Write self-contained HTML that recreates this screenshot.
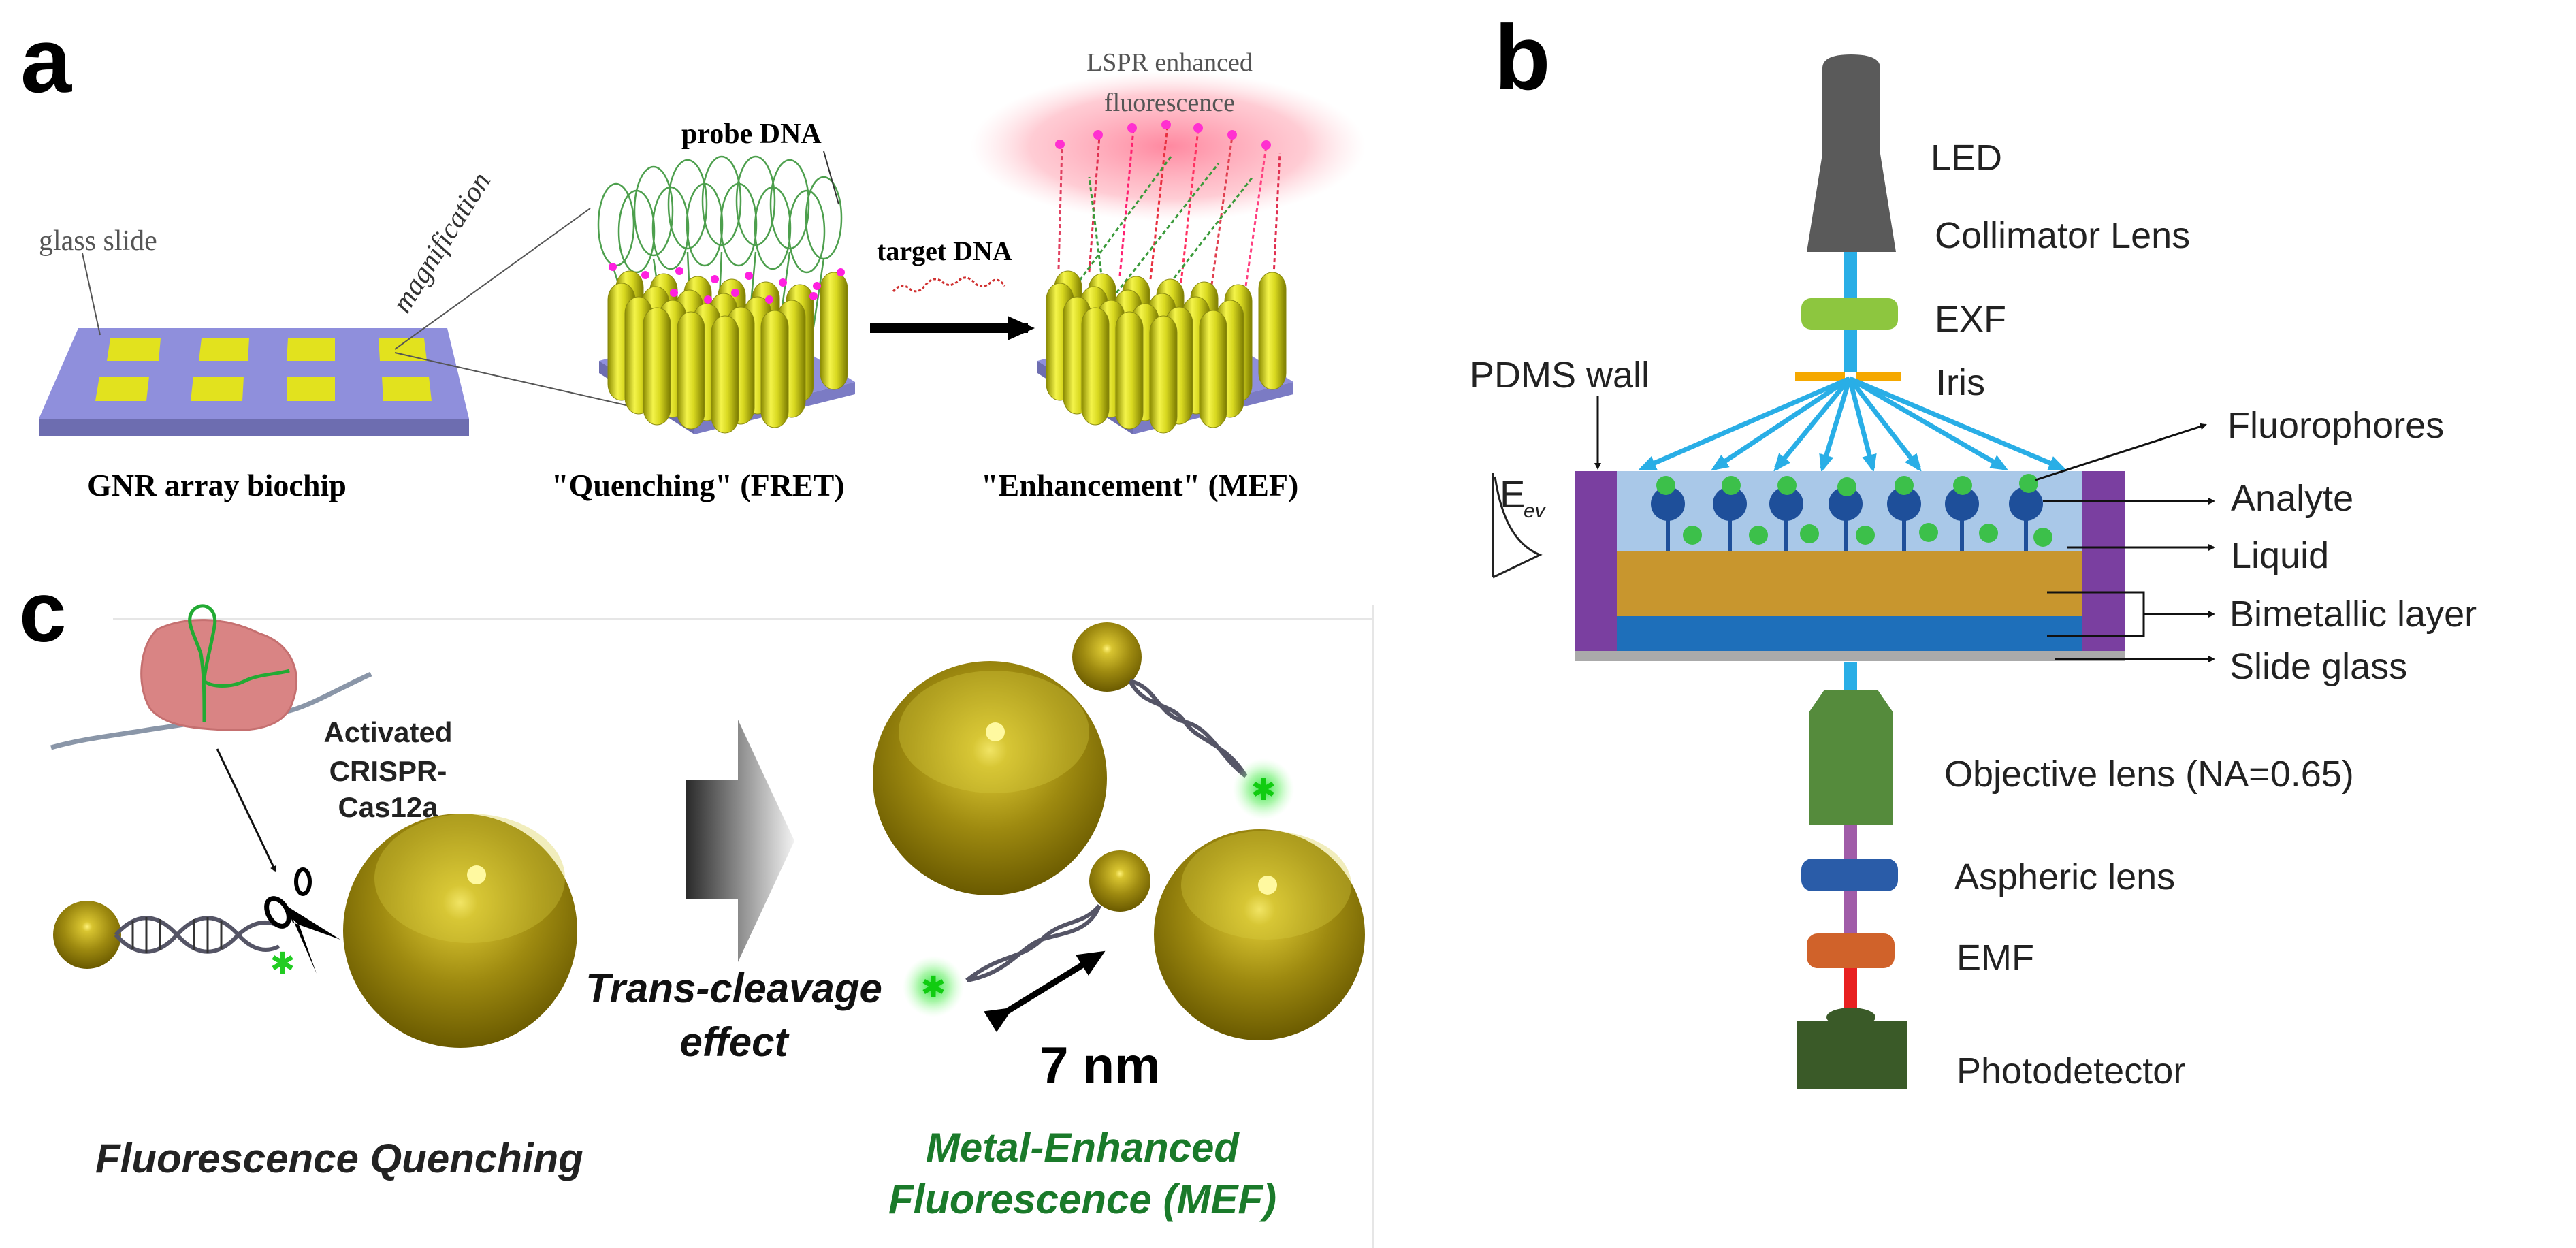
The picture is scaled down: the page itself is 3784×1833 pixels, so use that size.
<!DOCTYPE html>
<html><head><meta charset="utf-8">
<style>
html,body{margin:0;padding:0;background:#fff;}
svg{display:block;}
.sans{font-family:"Liberation Sans",Arial,sans-serif;}
.serif{font-family:"Liberation Serif","Times New Roman",serif;}
</style></head>
<body>
<svg width="3784" height="1833" viewBox="0 0 3784 1833" xmlns="http://www.w3.org/2000/svg">
<defs>
  <linearGradient id="rod" x1="0" x2="1" y1="0" y2="0">
    <stop offset="0" stop-color="#8a8a00"/>
    <stop offset="0.35" stop-color="#f4f44a"/>
    <stop offset="0.6" stop-color="#d8d820"/>
    <stop offset="1" stop-color="#7a7a00"/>
  </linearGradient>
  <g id="cap"><rect x="0" y="0" width="40" height="172" rx="20" ry="24" fill="url(#rod)" stroke="#8a8a10" stroke-width="1"/></g>
  <radialGradient id="gold" cx="0.5" cy="0.38" r="0.62">
    <stop offset="0" stop-color="#fff27a"/>
    <stop offset="0.12" stop-color="#d8c430"/>
    <stop offset="0.55" stop-color="#9e8a10"/>
    <stop offset="1" stop-color="#6a5a00"/>
  </radialGradient>
  <radialGradient id="glow" cx="0.5" cy="0.5" r="0.5">
    <stop offset="0" stop-color="#ff6080" stop-opacity="0.75"/>
    <stop offset="0.7" stop-color="#ff8ea0" stop-opacity="0.45"/>
    <stop offset="1" stop-color="#ffc0c8" stop-opacity="0"/>
  </radialGradient>
  <radialGradient id="ggl" cx="0.5" cy="0.5" r="0.5">
    <stop offset="0" stop-color="#30e040"/>
    <stop offset="0.5" stop-color="#70f070" stop-opacity="0.6"/>
    <stop offset="1" stop-color="#c0ffc0" stop-opacity="0"/>
  </radialGradient>
  <linearGradient id="bigarrow" x1="0" x2="1" y1="0" y2="0">
    <stop offset="0" stop-color="#2a2a2a"/>
    <stop offset="1" stop-color="#f2f2f2"/>
  </linearGradient>
  <marker id="ah" markerWidth="10" markerHeight="10" refX="8" refY="5" orient="auto" markerUnits="userSpaceOnUse">
    <path d="M0,0 L10,5 L0,10 z" fill="#111"/>
  </marker>
  <marker id="ahb" markerWidth="26" markerHeight="22" refX="20" refY="11" orient="auto" markerUnits="userSpaceOnUse">
    <path d="M0,0 L26,11 L0,22 z" fill="#29aee6"/>
  </marker>
  <marker id="ahk" markerWidth="40" markerHeight="36" refX="30" refY="18" orient="auto" markerUnits="userSpaceOnUse">
    <path d="M0,0 L40,18 L0,36 z" fill="#000"/>
  </marker>
</defs>

<!-- ================= PANEL A ================= -->
<text x="30" y="135" class="sans" font-size="135" font-weight="bold">a</text>

<polygon points="57,615 689,615 689,640 57,640" fill="#6d6db0"/>
<polygon points="115,482 657,482 689,615 57,615" fill="#8f8fdc"/>
<g fill="#e2e21e">
 <polygon points="162,497 236,497 233,530 157,530"/>
 <polygon points="296,497 366,497 364,530 292,530"/>
 <polygon points="423,497 492,497 492,530 421,530"/>
 <polygon points="556,497 623,497 627,530 558,530"/>
 <polygon points="146,553 219,553 215,589 140,589"/>
 <polygon points="284,553 358,553 356,589 280,589"/>
 <polygon points="422,553 492,553 492,589 421,589"/>
 <polygon points="561,553 630,553 634,589 563,589"/>
</g>
<text x="57" y="367" class="serif" font-size="42" fill="#555">glass slide</text>
<line x1="121" y1="372" x2="147" y2="492" stroke="#555" stroke-width="2"/>
<line x1="580" y1="513" x2="867" y2="306" stroke="#555" stroke-width="2"/>
<line x1="580" y1="518" x2="950" y2="602" stroke="#555" stroke-width="2"/>
<text class="serif" font-size="42" fill="#333" font-style="italic" transform="translate(598,462) rotate(-58)">magnification</text>

<polygon points="880,530 1110,470 1256,561 1020,620" fill="#8f8fdc"/>
<polygon points="880,530 1020,620 1020,638 880,548" fill="#6d6db0"/>
<polygon points="1020,620 1256,561 1256,579 1020,638" fill="#7b7bc4"/>
<g fill="none" stroke="#2f8f2f" stroke-width="2.5" opacity="0.85">
 <ellipse cx="905" cy="330" rx="26" ry="60"/>
 <ellipse cx="960" cy="310" rx="28" ry="65"/>
 <ellipse cx="1010" cy="300" rx="28" ry="65"/>
 <ellipse cx="1060" cy="295" rx="28" ry="65"/>
 <ellipse cx="1110" cy="295" rx="28" ry="65"/>
 <ellipse cx="1160" cy="300" rx="28" ry="65"/>
 <ellipse cx="1210" cy="320" rx="26" ry="60"/>
 <ellipse cx="935" cy="340" rx="26" ry="60"/>
 <ellipse cx="985" cy="335" rx="26" ry="60"/>
 <ellipse cx="1035" cy="330" rx="26" ry="60"/>
 <ellipse cx="1085" cy="330" rx="26" ry="60"/>
 <ellipse cx="1135" cy="335" rx="26" ry="60"/>
 <ellipse cx="1185" cy="340" rx="26" ry="60"/>
 <path d="M900,390 L925,470 M960,380 L975,480 M1010,370 L1015,480 M1060,370 L1055,480 M1110,370 L1100,480 M1160,370 L1145,480 M1210,380 L1195,480"/>
</g>
<g>
 <use href="#cap" x="905" y="398"/><use href="#cap" x="955" y="402"/><use href="#cap" x="1005" y="406"/><use href="#cap" x="1055" y="410"/><use href="#cap" x="1105" y="414"/><use href="#cap" x="1155" y="418"/><use href="#cap" x="1205" y="400"/>
 <use href="#cap" x="893" y="416"/><use href="#cap" x="943" y="421"/><use href="#cap" x="993" y="426"/><use href="#cap" x="1043" y="431"/><use href="#cap" x="1093" y="436"/><use href="#cap" x="1143" y="441"/>
 <use href="#cap" x="918" y="436"/><use href="#cap" x="968" y="441"/><use href="#cap" x="1018" y="446"/><use href="#cap" x="1068" y="451"/><use href="#cap" x="1118" y="456"/>
 <use href="#cap" x="945" y="452"/><use href="#cap" x="995" y="458"/><use href="#cap" x="1045" y="464"/>
</g>
<g fill="#ff20e0">
 <circle cx="900" cy="392" r="6"/><circle cx="948" cy="404" r="6"/><circle cx="998" cy="398" r="6"/><circle cx="1050" cy="410" r="6"/><circle cx="1100" cy="405" r="6"/><circle cx="1150" cy="415" r="6"/><circle cx="1200" cy="420" r="6"/><circle cx="1235" cy="400" r="6"/>
 <circle cx="990" cy="430" r="6"/><circle cx="1040" cy="440" r="6"/><circle cx="1080" cy="430" r="6"/><circle cx="1130" cy="440" r="6"/><circle cx="1195" cy="435" r="6"/>
</g>
<text x="1001" y="210" class="serif" font-size="42" font-weight="bold">probe DNA</text>
<line x1="1210" y1="222" x2="1232" y2="300" stroke="#333" stroke-width="2"/>

<line x1="1278" y1="482" x2="1510" y2="482" stroke="#000" stroke-width="14" marker-end="url(#ahk)"/>
<text x="1288" y="382" class="serif" font-size="40" font-weight="bold">target DNA</text>
<path d="M1312,428 q12,-14 24,-4 q12,10 24,-6 q12,-14 24,-4 q12,10 24,-2 q12,-10 24,4 q12,10 24,-2 q10,-8 20,6" fill="none" stroke="#d03030" stroke-width="3" stroke-dasharray="4,3"/>

<ellipse cx="1716" cy="215" rx="290" ry="110" fill="url(#glow)"/>
<polygon points="1524,530 1754,470 1900,561 1664,620" fill="#8f8fdc"/>
<polygon points="1524,530 1664,620 1664,638 1524,548" fill="#6d6db0"/>
<polygon points="1664,620 1900,561 1900,579 1664,638" fill="#7b7bc4"/>
<g fill="none" stroke-width="3" stroke-dasharray="6,4">
 <path d="M1555,395 L1560,215" stroke="#e04060"/><path d="M1600,400 L1615,200" stroke="#e03050"/>
 <path d="M1645,405 L1665,190" stroke="#ff2070"/><path d="M1690,410 L1715,185" stroke="#e83040"/>
 <path d="M1735,415 L1760,190" stroke="#ff3060"/><path d="M1780,418 L1810,200" stroke="#e04050"/>
 <path d="M1830,420 L1860,215" stroke="#ff4080"/><path d="M1870,425 L1880,225" stroke="#e03050"/>
 <path d="M1580,420 L1720,230" stroke="#3a9a3a"/><path d="M1640,430 L1790,240" stroke="#3a9a3a"/>
 <path d="M1700,440 L1840,260" stroke="#3a9a3a"/><path d="M1620,420 L1600,260" stroke="#3a9a3a"/>
</g>
<g fill="#ff30d0"><circle cx="1557" cy="212" r="7"/><circle cx="1613" cy="198" r="7"/><circle cx="1663" cy="188" r="7"/><circle cx="1713" cy="183" r="7"/><circle cx="1760" cy="188" r="7"/><circle cx="1810" cy="198" r="7"/><circle cx="1860" cy="213" r="7"/></g>
<g>
 <use href="#cap" x="1549" y="398"/><use href="#cap" x="1599" y="402"/><use href="#cap" x="1649" y="406"/><use href="#cap" x="1699" y="410"/><use href="#cap" x="1749" y="414"/><use href="#cap" x="1799" y="418"/><use href="#cap" x="1849" y="400"/>
 <use href="#cap" x="1537" y="416"/><use href="#cap" x="1587" y="421"/><use href="#cap" x="1637" y="426"/><use href="#cap" x="1687" y="431"/><use href="#cap" x="1737" y="436"/><use href="#cap" x="1787" y="441"/>
 <use href="#cap" x="1562" y="436"/><use href="#cap" x="1612" y="441"/><use href="#cap" x="1662" y="446"/><use href="#cap" x="1712" y="451"/><use href="#cap" x="1762" y="456"/>
 <use href="#cap" x="1589" y="452"/><use href="#cap" x="1639" y="458"/><use href="#cap" x="1689" y="464"/>
</g>
<text x="1718" y="104" class="serif" font-size="38" fill="#555" text-anchor="middle">LSPR enhanced</text>
<text x="1718" y="163" class="serif" font-size="38" fill="#555" text-anchor="middle">fluorescence</text>

<text x="128" y="728" class="serif" font-size="46" font-weight="bold">GNR array biochip</text>
<text x="810" y="728" class="serif" font-size="46" font-weight="bold">"Quenching" (FRET)</text>
<text x="1441" y="728" class="serif" font-size="46" font-weight="bold">"Enhancement" (MEF)</text>

<!-- ================= PANEL C ================= -->
<line x1="166" y1="909" x2="2017" y2="909" stroke="#e6e6e6" stroke-width="3"/>
<line x1="2017" y1="888" x2="2017" y2="1833" stroke="#e6e6e6" stroke-width="3"/>
<text x="28" y="942" class="sans" font-size="125" font-weight="bold">c</text>

<path d="M75,1098 C120,1085 170,1080 230,1070 C300,1060 360,1050 420,1045 C450,1040 500,1010 545,990" fill="none" stroke="#8a96a8" stroke-width="7"/>
<path d="M230,925 C270,905 330,905 380,930 C430,945 445,990 430,1030 C420,1065 380,1075 330,1072 C280,1070 240,1065 220,1040 C200,1005 205,950 230,925 z" fill="#d98484" stroke="#c57070" stroke-width="3"/>
<path d="M300,1060 C300,1020 300,990 295,960 C285,930 270,910 285,895 C300,882 320,895 315,920 C310,950 300,985 300,1000 C310,1010 340,1010 360,1000 C380,990 410,990 425,985" fill="none" stroke="#22aa33" stroke-width="5"/>
<text class="sans" font-size="42" font-weight="bold" fill="#222" text-anchor="middle"><tspan x="570" y="1090">Activated</tspan><tspan x="570" y="1147">CRISPR-</tspan><tspan x="570" y="1200">Cas12a</tspan></text>
<line x1="319" y1="1100" x2="405" y2="1280" stroke="#111" stroke-width="3" marker-end="url(#ah)"/>

<circle cx="128" cy="1373" r="50" fill="url(#gold)"/>
<g fill="none" stroke="#556" stroke-width="6">
 <path d="M170,1373 C200,1340 230,1340 260,1373 C290,1406 320,1406 350,1373 C370,1355 390,1350 410,1360"/>
 <path d="M170,1373 C200,1406 230,1406 260,1373 C290,1340 320,1340 350,1373 C370,1395 390,1400 410,1390"/>
</g>
<g stroke="#333" stroke-width="3"><line x1="195" y1="1352" x2="195" y2="1394"/><line x1="215" y1="1347" x2="215" y2="1399"/><line x1="235" y1="1350" x2="235" y2="1396"/><line x1="285" y1="1350" x2="285" y2="1396"/><line x1="305" y1="1347" x2="305" y2="1399"/><line x1="325" y1="1352" x2="325" y2="1394"/></g>
<ellipse cx="445" cy="1295" rx="10" ry="18" fill="none" stroke="#000" stroke-width="6"/>
<ellipse cx="408" cy="1340" rx="14" ry="22" fill="none" stroke="#000" stroke-width="7" transform="rotate(-30 408 1340)"/>
<path d="M420,1330 L500,1380 L430,1355 z M430,1350 L465,1430 L440,1360 z" fill="#000"/>
<text x="415" y="1430" class="sans" font-size="44" fill="#2c2" text-anchor="middle">✱</text>
<circle cx="676" cy="1367" r="172" fill="url(#gold)"/>
<ellipse cx="690" cy="1290" rx="140" ry="95" fill="#d8cc40" opacity="0.35"/>
<circle cx="700" cy="1285" r="14" fill="#fff9a0"/>

<polygon points="1008,1146 1084,1146 1084,1057 1167,1235 1084,1413 1084,1320 1008,1320" fill="url(#bigarrow)"/>
<text x="1078" y="1472" class="sans" font-size="60" font-weight="bold" font-style="italic" text-anchor="middle" fill="#111">Trans-cleavage</text>
<text x="1078" y="1551" class="sans" font-size="60" font-weight="bold" font-style="italic" text-anchor="middle" fill="#111">effect</text>

<circle cx="1454" cy="1143" r="172" fill="url(#gold)"/>
<ellipse cx="1460" cy="1075" rx="140" ry="90" fill="#d8cc40" opacity="0.35"/>
<circle cx="1462" cy="1075" r="14" fill="#fff9a0"/>
<circle cx="1626" cy="965" r="51" fill="url(#gold)"/>
<g fill="none" stroke="#556" stroke-width="6">
 <path d="M1660,1000 C1700,1010 1700,1050 1740,1060 C1780,1070 1790,1110 1830,1140"/>
 <path d="M1660,1000 C1680,1040 1720,1030 1740,1060 C1760,1090 1800,1090 1830,1140"/>
</g>
<ellipse cx="1856" cy="1159" rx="45" ry="45" fill="url(#ggl)"/>
<text x="1856" y="1175" class="sans" font-size="44" fill="#1c1" text-anchor="middle">✱</text>

<circle cx="1850" cy="1373" r="155" fill="url(#gold)"/>
<ellipse cx="1860" cy="1300" rx="125" ry="80" fill="#d8cc40" opacity="0.35"/>
<circle cx="1862" cy="1300" r="14" fill="#fff9a0"/>
<circle cx="1645" cy="1294" r="45" fill="url(#gold)"/>
<g fill="none" stroke="#556" stroke-width="6">
 <path d="M1615,1330 C1590,1360 1560,1350 1530,1380 C1500,1410 1470,1400 1420,1440"/>
 <path d="M1615,1330 C1600,1370 1560,1370 1530,1380 C1500,1390 1480,1430 1420,1440"/>
</g>
<ellipse cx="1371" cy="1449" rx="45" ry="45" fill="url(#ggl)"/>
<text x="1371" y="1465" class="sans" font-size="44" fill="#1c1" text-anchor="middle">✱</text>
<line x1="1480" y1="1485" x2="1615" y2="1402" stroke="#000" stroke-width="9" marker-end="url(#ahk)" marker-start="url(#ahk)"/>
<text x="1616" y="1591" class="sans" font-size="76" font-weight="bold" text-anchor="middle">7 nm</text>

<text x="140" y="1722" class="sans" font-size="60" font-style="italic" font-weight="bold" fill="#222">Fluorescence Quenching</text>
<text x="1590" y="1706" class="sans" font-size="60" font-style="italic" font-weight="bold" fill="#1a7a2a" text-anchor="middle">Metal-Enhanced</text>
<text x="1590" y="1782" class="sans" font-size="60" font-style="italic" font-weight="bold" fill="#1a7a2a" text-anchor="middle">Fluorescence (MEF)</text>

<!-- ================= PANEL B ================= -->
<text x="2195" y="131" class="sans" font-size="135" font-weight="bold">b</text>

<rect x="2708" y="370" width="20" height="184" fill="#29aee6"/>
<rect x="2708" y="973" width="20" height="45" fill="#29aee6"/>
<rect x="2708" y="1212" width="20" height="160" fill="#a05ca8"/>
<rect x="2708" y="1422" width="20" height="60" fill="#e82020"/>

<path d="M2677,228 L2677,100 Q2677,80 2719,80 Q2762,80 2762,100 L2762,228 Z" fill="#5a5a5a"/>
<polygon points="2677,226 2762,226 2785,370 2654,370" fill="#5a5a5a"/>
<rect x="2646" y="438" width="142" height="46" rx="14" fill="#8dc63f"/>
<rect x="2637" y="546" width="156" height="14" fill="#f5a800"/>
<rect x="2710" y="546" width="16" height="14" fill="#fff"/>
<g stroke="#29aee6" stroke-width="7" marker-end="url(#ahb)">
 <line x1="2717" y1="556" x2="2412" y2="688"/>
 <line x1="2717" y1="556" x2="2518" y2="688"/>
 <line x1="2717" y1="556" x2="2609" y2="688"/>
 <line x1="2717" y1="556" x2="2677" y2="688"/>
 <line x1="2717" y1="556" x2="2751" y2="688"/>
 <line x1="2717" y1="556" x2="2819" y2="688"/>
 <line x1="2717" y1="556" x2="2945" y2="688"/>
 <line x1="2717" y1="556" x2="3030" y2="688"/>
</g>
<rect x="2376" y="692" width="682" height="118" fill="#a9c8e8"/>
<rect x="2376" y="810" width="682" height="95" fill="#c8962e"/>
<rect x="2376" y="905" width="682" height="51" fill="#1e6fba"/>
<rect x="2313" y="692" width="63" height="264" fill="#7a3fa0"/>
<rect x="3058" y="692" width="63" height="264" fill="#7a3fa0"/>
<rect x="2313" y="956" width="808" height="15" fill="#aaaaaa"/>
<g fill="#1e4f9a">
 <g transform="translate(2450,740)"><circle cx="0" cy="0" r="25"/><rect x="-3" y="10" width="6" height="60"/></g>
 <g transform="translate(2541,740)"><circle cx="0" cy="0" r="25"/><rect x="-3" y="10" width="6" height="60"/></g>
 <g transform="translate(2624,740)"><circle cx="0" cy="0" r="25"/><rect x="-3" y="10" width="6" height="60"/></g>
 <g transform="translate(2711,740)"><circle cx="0" cy="0" r="25"/><rect x="-3" y="10" width="6" height="60"/></g>
 <g transform="translate(2797,740)"><circle cx="0" cy="0" r="25"/><rect x="-3" y="10" width="6" height="60"/></g>
 <g transform="translate(2882,740)"><circle cx="0" cy="0" r="25"/><rect x="-3" y="10" width="6" height="60"/></g>
 <g transform="translate(2976,740)"><circle cx="0" cy="0" r="25"/><rect x="-3" y="10" width="6" height="60"/></g>
</g>
<g fill="#3cc04a">
 <circle cx="2447" cy="713" r="14"/><circle cx="2543" cy="713" r="14"/><circle cx="2625" cy="713" r="14"/><circle cx="2713" cy="715" r="14"/><circle cx="2797" cy="713" r="14"/><circle cx="2883" cy="713" r="14"/><circle cx="2980" cy="710" r="14"/>
 <circle cx="2486" cy="786" r="14"/><circle cx="2583" cy="786" r="14"/><circle cx="2658" cy="784" r="14"/><circle cx="2740" cy="786" r="14"/><circle cx="2833" cy="782" r="14"/><circle cx="2921" cy="783" r="14"/><circle cx="3001" cy="789" r="14"/>
</g>
<polygon points="2680,1013 2758,1013 2780,1045 2780,1212 2658,1212 2658,1045" fill="#558b3c"/>
<rect x="2646" y="1261" width="142" height="48" rx="16" fill="#2a5ca8"/>
<rect x="2654" y="1371" width="129" height="51" rx="16" fill="#d0622a"/>
<ellipse cx="2719" cy="1494" rx="36" ry="14" fill="#3a5a28"/>
<rect x="2640" y="1500" width="162" height="99" fill="#3a5a28"/>

<line x1="2193" y1="694" x2="2193" y2="848" stroke="#222" stroke-width="3"/>
<path d="M2196,700 C2205,760 2225,800 2262,815 L2193,848" fill="none" stroke="#222" stroke-width="3"/>
<text x="2203" y="745" class="sans" font-size="56" fill="#222">E</text>
<text x="2238" y="760" class="sans" font-size="30" font-style="italic" fill="#222">ev</text>

<text x="2159" y="569" class="sans" font-size="54" fill="#222">PDMS wall</text>
<line x1="2347" y1="582" x2="2347" y2="688" stroke="#111" stroke-width="3" marker-end="url(#ah)"/>

<g stroke="#111" stroke-width="3" marker-end="url(#ah)">
 <line x1="2990" y1="705" x2="3240" y2="624"/>
 <line x1="3001" y1="736" x2="3252" y2="736"/>
 <line x1="3036" y1="804" x2="3252" y2="804"/>
 <line x1="3149" y1="902" x2="3252" y2="902"/>
 <line x1="3018" y1="968" x2="3252" y2="968"/>
</g>
<path d="M3007,870 L3149,870 L3149,934 L3007,934" fill="none" stroke="#111" stroke-width="3"/>

<g class="sans" font-size="54" fill="#222">
 <text x="2836" y="250">LED</text>
 <text x="2842" y="364">Collimator Lens</text>
 <text x="2842" y="487">EXF</text>
 <text x="2844" y="580">Iris</text>
 <text x="3272" y="643">Fluorophores</text>
 <text x="3277" y="750">Analyte</text>
 <text x="3277" y="834">Liquid</text>
 <text x="3275" y="920">Bimetallic layer</text>
 <text x="3275" y="997">Slide glass</text>
 <text x="2856" y="1155">Objective lens (NA=0.65)</text>
 <text x="2871" y="1306">Aspheric lens</text>
 <text x="2874" y="1425">EMF</text>
 <text x="2874" y="1591">Photodetector</text>
</g>
</svg>
</body></html>
